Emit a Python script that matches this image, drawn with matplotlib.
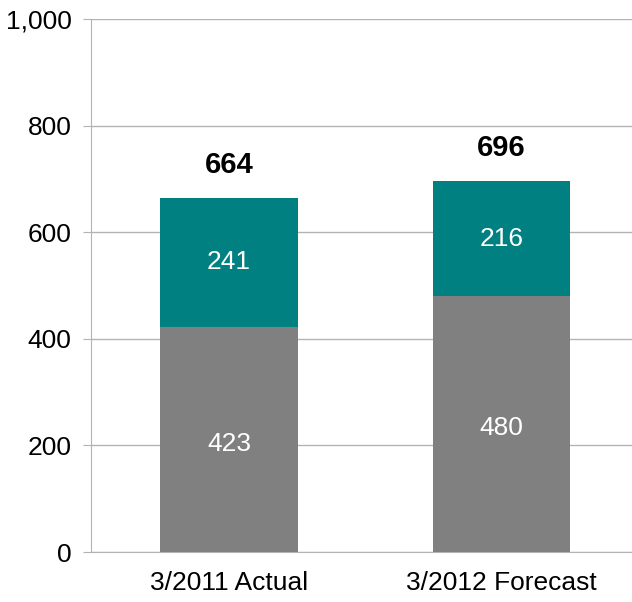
import matplotlib.pyplot as plt

plt.rcParams['font.family'] = ['Liberation Sans', 'DejaVu Sans']

# values in the chart
categories = ['3/2011 Actual', '3/2012 Forecast']
base = [423, 480]
upper = [241, 216]
totals = [664, 696]

gray = '#808080'
teal = '#008080'
line_col = '#b3b3b3'

fig = plt.figure(figsize=(6.32, 6.02), dpi=100)
ax = fig.add_axes([0.144, 0.083, 0.856, 0.885])

x = range(len(categories))
ax.bar(x, base, width=0.506, color=gray, zorder=3)
ax.bar(x, upper, width=0.506, bottom=base, color=teal, zorder=3)

for i in x:
    ax.text(i, base[i] / 2 - 8, str(base[i]), ha='center', va='center',
            color='white', fontsize=19, zorder=4)
    ax.text(i, base[i] + upper[i] / 2, str(upper[i]), ha='center', va='center',
            color='white', fontsize=19, zorder=4)
    ax.annotate(str(totals[i]), (i, totals[i]), xytext=(0, 24),
                textcoords='offset points', ha='center', va='center',
                fontsize=21, fontweight='bold', color='black')

ax.set_xlim(-0.506, 1.479)
ax.set_ylim(0, 1000)
ax.set_yticks(range(0, 1001, 200))
ax.set_yticklabels([f'{v:,}' for v in range(0, 1001, 200)])
ax.set_xticks(list(x))
ax.set_xticklabels(categories)

ax.grid(axis='y', color=line_col, linewidth=1, zorder=0)
for side in ['top', 'right']:
    ax.spines[side].set_visible(False)
ax.spines['left'].set_color(line_col)
ax.spines['bottom'].set_color(line_col)
ax.tick_params(axis='y', length=6, color=line_col, labelsize=19, pad=8)
ax.tick_params(axis='x', length=0, labelsize=19, pad=14)

fig.savefig('out.png', dpi=100)
